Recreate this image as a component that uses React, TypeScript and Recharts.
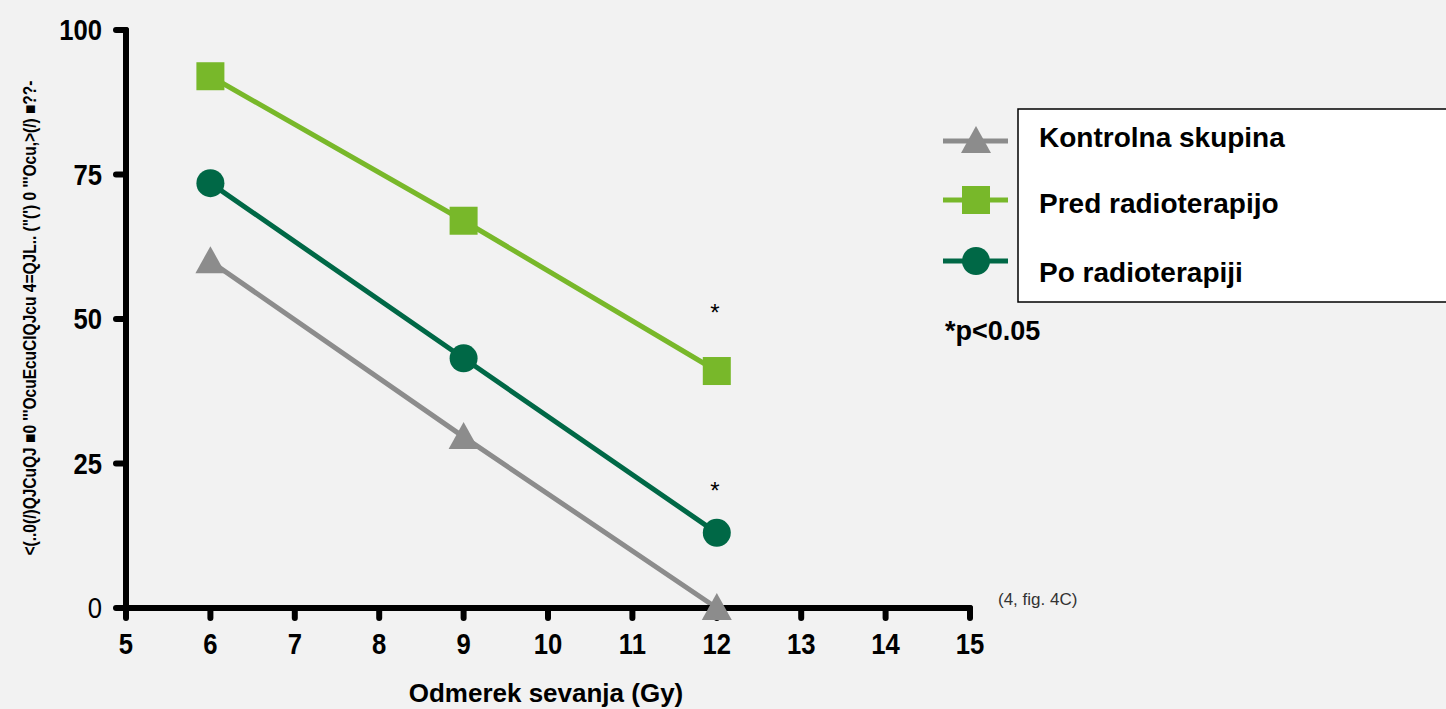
import React from "react"
import { LineChart, Line, XAxis, YAxis, LabelList } from "recharts"

const doses = [6, 9, 12]
const kontrolna = [60, 29.6, 0]
const pred = [92, 67, 41]
const po = [73.5, 43.2, 13]
const xTicks = [5, 6, 7, 8, 9, 10, 11, 12, 13, 14, 15]
const yTicks = [0, 25, 50, 75, 100]
const signif = ["", "", "*"]

const GRAY = "#8c8c8c"
const LIGHT = "#78b82a"
const DARK = "#006846"
const FONT = "'Liberation Sans', Arial, sans-serif"

const data = doses.map((d, i) => ({
  dose: d,
  kontrolna: kontrolna[i],
  pred: pred[i],
  po: po[i],
  sig: signif[i],
}))

const Triangle = ({ cx, cy, fill }: any) => (
  <polygon points={`${cx},${cy - 15} ${cx - 15},${cy + 12} ${cx + 15},${cy + 12}`} fill={fill} />
)
const Square = ({ cx, cy, fill }: any) => <rect x={cx - 14} y={cy - 14} width={28} height={28} fill={fill} />
const Circle = ({ cx, cy, fill }: any) => <circle cx={cx} cy={cy} r={14} fill={fill} />

// tick labels in the source are a bit taller and narrower than Arial
const YTick = ({ x, y, payload }: any) => (
  <text
    transform={`translate(${x},${y + 10}) scale(0.95,1.12)`}
    textAnchor="end"
    fontFamily={FONT}
    fontSize={27}
    fontWeight={payload.value === 0 ? 400 : 700}
    fill="#000"
  >
    {payload.value}
  </text>
)

const XTick = ({ x, y, payload }: any) => (
  <text
    transform={`translate(${x},${y + 21}) scale(0.95,1.12)`}
    textAnchor="middle"
    fontFamily={FONT}
    fontSize={27}
    fontWeight={700}
    fill="#000"
  >
    {payload.value}
  </text>
)

const Star = ({ x, y, value }: any) =>
  value ? (
    <text x={x - 2} y={y - 50} textAnchor="middle" fontFamily={FONT} fontSize={24} fill="#000">
      {value}
    </text>
  ) : null

const StarLow = ({ x, y, value }: any) =>
  value ? (
    <text x={x - 2} y={y - 34} textAnchor="middle" fontFamily={FONT} fontSize={24} fill="#000">
      {value}
    </text>
  ) : null

const legendItems = [
  { name: "Kontrolna skupina", color: GRAY, shape: "tri", y: 141, ty: 147 },
  { name: "Pred radioterapijo", color: LIGHT, shape: "sq", y: 200, ty: 213 },
  { name: "Po radioterapiji", color: DARK, shape: "ci", y: 261, ty: 282 },
]

export default function App() {
  return (
    <div style={{ position: "absolute", left: 0, top: 0, width: 1446, height: 709, background: "#f2f2f2", overflow: "hidden" }}>
      <LineChart width={1446} height={709} data={data} margin={{ top: 30, right: 476, bottom: 41, left: 66 }}>
        <XAxis
          dataKey="dose"
          type="number"
          domain={[5, 15]}
          ticks={xTicks}
          interval={0}
          height={60}
          axisLine={{ stroke: "#000", strokeWidth: 6, strokeLinecap: "round" }}
          tickLine={{ stroke: "#000", strokeWidth: 6, strokeLinecap: "round" }}
          tickSize={10}
          tickMargin={15}
          tick={<XTick />}
        />
        <YAxis
          type="number"
          domain={[0, 100]}
          ticks={yTicks}
          interval={0}
          width={60}
          axisLine={{ stroke: "#000", strokeWidth: 6, strokeLinecap: "round" }}
          tickLine={{ stroke: "#000", strokeWidth: 6, strokeLinecap: "round" }}
          tickSize={10}
          tickMargin={14}
          tick={<YTick />}
        />
        <Line
          dataKey="kontrolna"
          stroke={GRAY}
          strokeWidth={5}
          isAnimationActive={false}
          dot={(p: any) => <Triangle key={`k${p.index}`} cx={p.cx} cy={p.cy} fill={GRAY} />}
        />
        <Line
          dataKey="po"
          stroke={DARK}
          strokeWidth={5}
          isAnimationActive={false}
          dot={(p: any) => <Circle key={`o${p.index}`} cx={p.cx} cy={p.cy} fill={DARK} />}
        >
          <LabelList dataKey="sig" content={<StarLow />} />
        </Line>
        <Line
          dataKey="pred"
          stroke={LIGHT}
          strokeWidth={5}
          isAnimationActive={false}
          dot={(p: any) => <Square key={`p${p.index}`} cx={p.cx} cy={p.cy} fill={LIGHT} />}
        >
          <LabelList dataKey="sig" content={<Star />} />
        </Line>
      </LineChart>

      <svg width={1446} height={709} style={{ position: "absolute", left: 0, top: 0, pointerEvents: "none" }}>
        <text
          transform="translate(36,318) rotate(-90)"
          textAnchor="middle"
          fontFamily={FONT}
          fontSize={18}
          fontWeight={700}
          fill="#000"
          textLength={475}
          lengthAdjust="spacingAndGlyphs"
        >
          {"<(..0(/)QJCuQJ ■0 '''OcuEcuCIQJcu 4=QJL.. (\"(') 0 '''Ocu,>(/) ■??-"}
        </text>
        <rect x={1018} y={109} width={440} height={193} fill="#fff" stroke="#000" strokeWidth={1.5} />
        {legendItems.map((it) => (
          <g key={it.name}>
            <line x1={943} x2={1008} y1={it.y} y2={it.y} stroke={it.color} strokeWidth={5} />
            {it.shape === "tri" && <Triangle cx={976} cy={it.y} fill={it.color} />}
            {it.shape === "sq" && <Square cx={976} cy={it.y} fill={it.color} />}
            {it.shape === "ci" && <Circle cx={976} cy={it.y} fill={it.color} />}
            <text x={1039} y={it.ty} fontFamily={FONT} fontSize={28} fontWeight={700} fill="#000">
              {it.name}
            </text>
          </g>
        ))}
        <text x={945} y={340} fontFamily={FONT} fontSize={27} fontWeight={700} fill="#000">
          *p&lt;0.05
        </text>
        <text x={998} y={605} fontFamily={FONT} fontSize={17} fill="#333">
          (4, fig. 4C)
        </text>
        <text x={546} y={702} textAnchor="middle" fontFamily={FONT} fontSize={26} fontWeight={700} fill="#000">
          Odmerek sevanja (Gy)
        </text>
      </svg>
    </div>
  )
}
